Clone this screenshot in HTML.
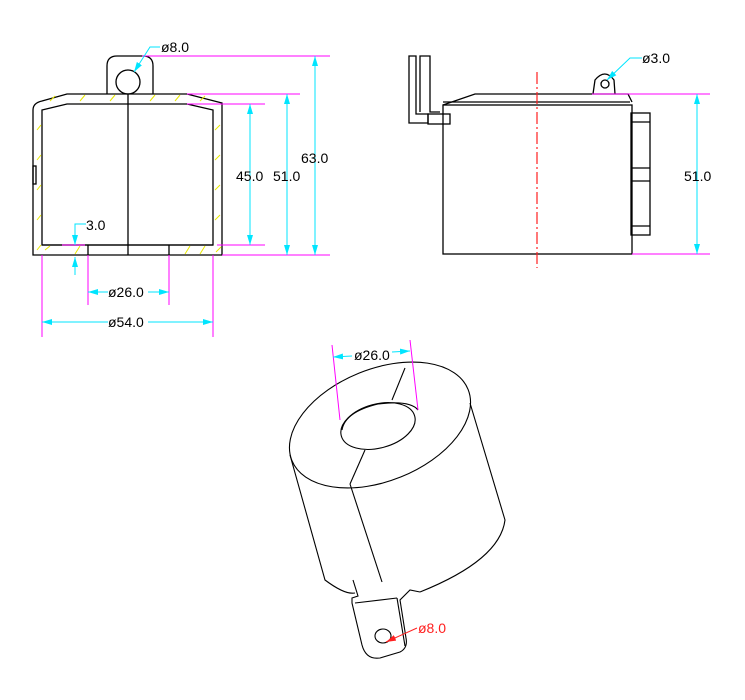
<!DOCTYPE html>
<html><head><meta charset="utf-8"><style>
html,body{margin:0;padding:0;background:#fff;}
svg{display:block;font-family:"Liberation Sans Narrow","Liberation Sans",sans-serif;}
</style></head><body>
<svg width="745" height="700" viewBox="0 0 745 700" xmlns="http://www.w3.org/2000/svg">
<defs>
<marker id="a" viewBox="0 0 10 6" refX="10" refY="3" markerWidth="10" markerHeight="6" orient="auto-start-reverse"><path d="M0,0 L10,3 L0,6z" fill="#00e5ff"/></marker>
<marker id="r" viewBox="0 0 10 6" refX="10" refY="3" markerWidth="10" markerHeight="6" orient="auto"><path d="M0,0 L10,3 L0,6z" fill="#ff2020"/></marker>
</defs>
<!-- LEFT VIEW -->
<g fill="none" stroke="#000" stroke-width="1.3">
<path d="M107,94 L107,66 Q107,56 117,56 L143,56 Q153,56 153,66 L153,94"/>
<circle cx="128" cy="82" r="12"/>
<path d="M33,255 L33,110 Q33,103 42,101 L67,94 L187,94 L222,103 L222,255 Z"/>
<path d="M42,245 L42,110 L67,104 L187,104 L213,110 L213,245 Z"/>
<line x1="42" y1="245" x2="213" y2="245"/>
<line x1="128" y1="94" x2="128" y2="255"/>
<line x1="88" y1="245" x2="88" y2="255"/>
<line x1="169" y1="245" x2="169" y2="255"/>
<rect x="33" y="166" width="3" height="18"/>
</g>
<g stroke="#e8e800" stroke-width="1">
<path d="M37,130 l4,-5 M37,160 l4,-5 M37,190 l4,-5 M37,220 l4,-5 M37,250 l4,-5 M215,130 l5,-5 M215,160 l5,-5 M215,190 l5,-5 M215,220 l5,-5 M216,252 l5,-5 M80,101 l5,-6 M110,101 l5,-6 M150,101 l5,-6 M175,101 l5,-6 M45,250 l5,-4 M75,254 l5,-8 M185,254 l5,-8 M200,254 l5,-8 M50,101 l5,-5 M200,101 l5,-5"/>
</g>
<g stroke="#ff00ff" stroke-width="1">
<line x1="142" y1="56" x2="330" y2="56"/>
<line x1="187" y1="94" x2="300" y2="94"/>
<line x1="187" y1="104" x2="265" y2="104"/>
<line x1="217" y1="245" x2="265" y2="245"/>
<line x1="222" y1="255" x2="330" y2="255"/>
<line x1="62" y1="245" x2="85" y2="245"/>
<line x1="88" y1="255" x2="88" y2="305"/>
<line x1="169" y1="255" x2="169" y2="305"/>
<line x1="42" y1="255" x2="42" y2="337"/>
<line x1="213" y1="255" x2="213" y2="337"/>
</g>
<g stroke="#00e5ff" stroke-width="1" fill="none">
<line x1="250" y1="104" x2="250" y2="245" marker-start="url(#a)" marker-end="url(#a)"/>
<line x1="287" y1="94" x2="287" y2="255" marker-start="url(#a)" marker-end="url(#a)"/>
<line x1="315" y1="56" x2="315" y2="255" marker-start="url(#a)" marker-end="url(#a)"/>
<path d="M160,47 L150,47 L134,72" marker-end="url(#a)"/>
<path d="M86,224 L75,224 L75,245" marker-end="url(#a)"/>
<line x1="75" y1="275" x2="75" y2="257" marker-end="url(#a)"/>
<line x1="108" y1="292" x2="88" y2="292" marker-end="url(#a)"/>
<line x1="148" y1="292" x2="169" y2="292" marker-end="url(#a)"/>
<line x1="108" y1="322" x2="42" y2="322" marker-end="url(#a)"/>
<line x1="148" y1="322" x2="213" y2="322" marker-end="url(#a)"/>
</g>
<g font-size="14" fill="#000">
<text x="161" y="52">ø8.0</text>
<text x="236" y="181">45.0</text>
<text x="273" y="181">51.0</text>
<text x="301" y="163">63.0</text>
<text x="86" y="230">3.0</text>
<text x="108" y="297">ø26.0</text>
<text x="108" y="327">ø54.0</text>
</g>
<!-- RIGHT VIEW -->
<g fill="none" stroke="#000" stroke-width="1.3">
<rect x="443" y="105" width="189" height="149"/>
<path d="M443,105 L475,94 L628,94 L632,102"/>
<line x1="443" y1="102" x2="630" y2="102"/>
<path d="M409,56 L416,56 L416,114 L428,114 L428,123 L409,123 Z"/>
<path d="M420,112 L420,56 L430,56 L430,112 L440,112"/>
<rect x="428" y="114" width="22" height="10"/>
<rect x="631" y="113" width="19" height="122"/>
<line x1="631" y1="122" x2="650" y2="122"/>
<line x1="631" y1="168" x2="650" y2="168"/>
<line x1="631" y1="181" x2="650" y2="181"/>
<line x1="631" y1="226" x2="650" y2="226"/>
<path d="M593,94 L595,80 Q605,68 614,80 L615,94"/>
<circle cx="605" cy="84" r="4"/>
</g>
<line x1="537" y1="72" x2="537" y2="268" stroke="#ff2020" stroke-width="1.2" stroke-dasharray="12,3,2,3"/>
<g stroke="#ff00ff" stroke-width="1">
<line x1="592" y1="94" x2="710" y2="94"/>
<line x1="632" y1="254" x2="710" y2="254"/>
</g>
<g stroke="#00e5ff" stroke-width="1" fill="none">
<line x1="697" y1="94" x2="697" y2="254" marker-start="url(#a)" marker-end="url(#a)"/>
<path d="M642,58 L630,58 L607,80" marker-end="url(#a)"/>
</g>
<g font-size="14" fill="#000">
<text x="642" y="63">ø3.0</text>
<text x="684" y="181">51.0</text>
</g>
<!-- 3D VIEW -->
<g fill="none" stroke="#000" stroke-width="1.1">
<ellipse cx="380" cy="425" rx="95" ry="56" transform="rotate(-22 380 425)"/>
<ellipse cx="378" cy="426" rx="38" ry="22" transform="rotate(-15 378 426)"/>
<path d="M342,430 Q345,412 378,404 Q410,400 418,410"/>
<line x1="405" y1="368" x2="392" y2="400"/>
<line x1="365" y1="450" x2="350" y2="484"/>
<line x1="350" y1="484" x2="382" y2="582"/>
<path d="M290,455 L325,580 Q345,595 355,593"/>
<path d="M470,403 L505,520 Q500,560 420,592"/>
<path d="M353,580 L358,596 L352,598 L352,603 L362,645 Q366,660 380,658 L400,652 Q408,648 406,638 L400,600 L410,590 L420,592"/>
<line x1="355" y1="603" x2="397" y2="598"/>
<line x1="397" y1="598" x2="405" y2="646"/>
<ellipse cx="383" cy="636" rx="8" ry="7"/>
</g>
<g stroke="#ff00ff" stroke-width="1">
<line x1="332" y1="345" x2="340" y2="420"/>
<line x1="410" y1="340" x2="418" y2="410"/>
</g>
<g stroke="#00e5ff" stroke-width="1">
<line x1="352" y1="356" x2="333" y2="357" marker-end="url(#a)"/>
<line x1="392" y1="352" x2="410" y2="351" marker-end="url(#a)"/>
</g>
<line x1="417" y1="628" x2="386" y2="642" stroke="#ff2020" stroke-width="1" marker-end="url(#r)"/>
<text x="354" y="360" font-size="14" fill="#000">ø26.0</text>
<text x="418" y="633" font-size="14" fill="#ff2020">ø8.0</text>
</svg>
</body></html>
